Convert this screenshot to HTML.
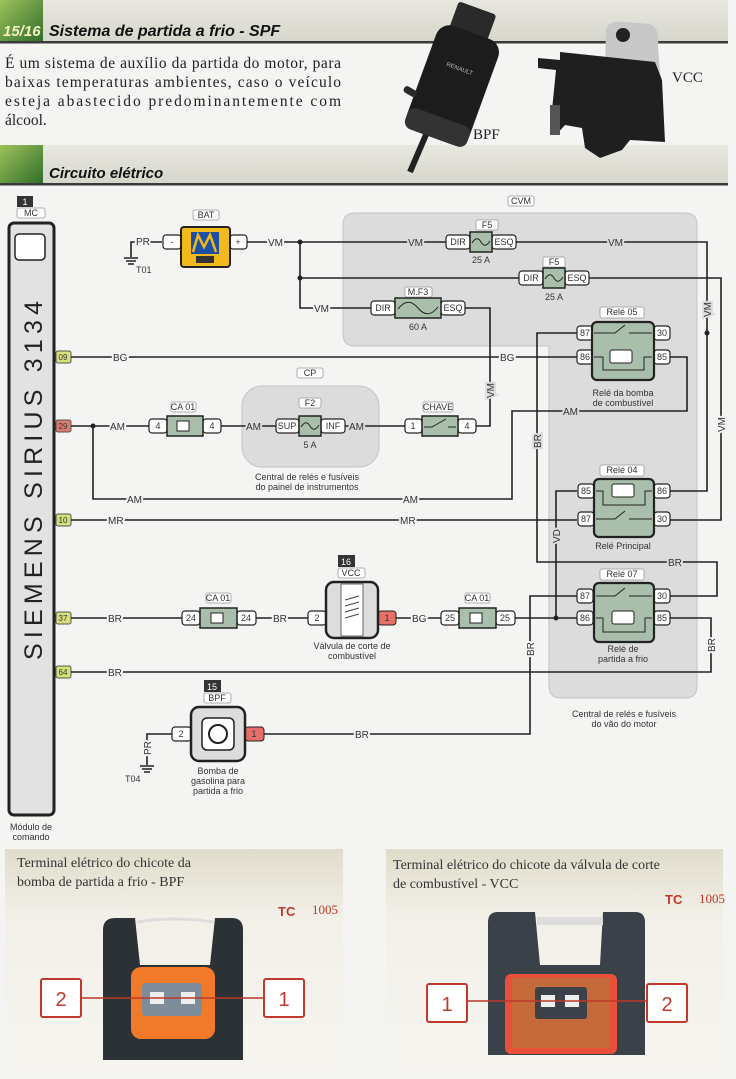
<!DOCTYPE html>
<html><head><meta charset="utf-8"><style>
html,body{margin:0;padding:0;background:#f4f4f2;}
svg{display:block;}
.w{stroke:#222;stroke-width:1.6;fill:none;}
.t{font-family:"Liberation Sans",sans-serif;font-size:9px;fill:#333;}
.wl{font-family:"Liberation Sans",sans-serif;font-size:10px;fill:#333;stroke:#f4f4f2;stroke-width:4;paint-order:stroke;}
.wg{font-family:"Liberation Sans",sans-serif;font-size:10px;fill:#333;stroke:#dcdcdc;stroke-width:4;paint-order:stroke;}
.pb{fill:#fff;stroke:#222;stroke-width:1.2;}
.rl{fill:#a9bfab;stroke:#222;stroke-width:2.2;}
.lb{fill:#fff;stroke:#999;stroke-width:0.8;}
.ser{font-family:"Liberation Serif",serif;}
</style></head><body>
<svg width="736" height="1079" viewBox="0 0 736 1079" xmlns="http://www.w3.org/2000/svg">
<defs>
<linearGradient id="gr" x1="0" y1="0" x2="1" y2="1"><stop offset="0" stop-color="#9ec25c"/><stop offset="1" stop-color="#2f6d2a"/></linearGradient>
<linearGradient id="band" x1="0" y1="0" x2="0" y2="1"><stop offset="0" stop-color="#e8e8e0"/><stop offset="1" stop-color="#d6d6cc"/></linearGradient>
<linearGradient id="pan" x1="0" y1="0" x2="0" y2="1"><stop offset="0" stop-color="#e0dccb"/><stop offset="0.3" stop-color="#f2f0e8"/><stop offset="1" stop-color="#f6f5f0"/></linearGradient>
</defs>
<rect width="736" height="1079" fill="#f4f4f2"/>
<!-- header -->
<rect x="0" y="0" width="728" height="42" fill="url(#band)"/>
<rect x="0" y="0" width="43" height="42" fill="url(#gr)"/>
<rect x="0" y="41" width="728" height="2.5" fill="#3a3a3a"/>
<text x="3" y="36" font-family="Liberation Sans,sans-serif" font-size="15" font-style="italic" font-weight="bold" fill="#f2f2c0">15/16</text>
<text x="49" y="36" font-family="Liberation Sans,sans-serif" font-size="16" font-style="italic" font-weight="bold" fill="#111">Sistema de partida a frio - SPF</text>
<g class="ser" font-size="15.5" fill="#222">
<text x="5" y="68" textLength="336" lengthAdjust="spacing">É um sistema de auxílio da partida do motor, para</text>
<text x="5" y="87" textLength="336" lengthAdjust="spacing">baixas temperaturas ambientes, caso o veículo</text>
<text x="5" y="106" textLength="336" lengthAdjust="spacing">esteja abastecido predominantemente com</text>
<text x="5" y="125">álcool.</text>
</g>
<rect x="0" y="145" width="728" height="39" fill="url(#band)"/>
<rect x="0" y="145" width="43" height="39" fill="url(#gr)"/>
<rect x="0" y="183" width="728" height="2.5" fill="#3a3a3a"/>
<text x="49" y="178" font-family="Liberation Sans,sans-serif" font-size="15" font-style="italic" font-weight="bold" fill="#111">Circuito elétrico</text>
<!-- pump photo -->
<g>
<line x1="428" y1="130" x2="410" y2="172" stroke="#222" stroke-width="6"/>
<g transform="rotate(20 455 85)">
<rect x="430" y="5" width="40" height="30" rx="3" fill="#2a2a2a"/>
<rect x="420" y="30" width="66" height="112" rx="14" fill="#1c1c1c"/>
<rect x="420" y="120" width="66" height="22" rx="8" fill="#333"/>
<text x="440" y="70" font-size="6" fill="#bbb" font-family="Liberation Sans,sans-serif">RENAULT</text>
</g>
<rect x="403" y="88" width="14" height="7" rx="3" fill="#2a2a2a" transform="rotate(30 410 92)"/>
</g>
<!-- VCC photo -->
<g>
<path d="M606 30 Q608 20 625 22 L650 24 Q660 28 658 45 L660 75 L605 70 Z" fill="#c8c8c8"/>
<circle cx="623" cy="35" r="7" fill="#222"/>
<path d="M538 58 L560 60 L560 52 L655 62 L662 80 L665 142 L630 140 L622 150 L600 158 L585 148 L582 128 L565 125 L556 135 L552 110 L556 70 L538 68 Z" fill="#1f1f1f"/>
<rect x="550" y="105" width="10" height="30" fill="#555"/>
</g>
<text x="473" y="139" class="ser" font-size="15" fill="#222">BPF</text>
<text x="672" y="82" class="ser" font-size="15" fill="#222">VCC</text>

<!-- regions -->
<path d="M355 213 H685 Q697 213 697 225 V686 Q697 698 685 698 H561 Q549 698 549 686 V346 H355 Q343 346 343 334 V225 Q343 213 355 213 Z" fill="#dcdcdc" stroke="#c4c4c4"/>
<rect x="242" y="386" width="137" height="81" rx="20" fill="#dcdcdc" stroke="#c4c4c4"/>
<rect x="508" y="196" width="26" height="10" rx="2" class="lb"/><text x="521" y="204" class="t" text-anchor="middle">CVM</text>
<rect x="297" y="368" width="26" height="10" rx="2" class="lb"/><text x="310" y="376" class="t" text-anchor="middle">CP</text>
<text x="307" y="480" class="t" text-anchor="middle">Central de relés e fusíveis</text>
<text x="307" y="490" class="t" text-anchor="middle">do painel de instrumentos</text>
<text x="624" y="717" class="t" text-anchor="middle">Central de relés e fusíveis</text>
<text x="624" y="727" class="t" text-anchor="middle">do vão do motor</text>

<!-- MC module -->
<rect x="17" y="196" width="16" height="11" fill="#333"/><text x="25" y="205" class="t" fill="#fff" text-anchor="middle" style="fill:#fff">1</text>
<rect x="17" y="208" width="28" height="10" rx="2" class="lb"/><text x="31" y="216" class="t" text-anchor="middle">MC</text>
<rect x="9" y="223" width="45" height="592" rx="5" fill="#e2e2e2" stroke="#222" stroke-width="3"/>
<rect x="15" y="234" width="30" height="26" rx="4" fill="#fff" stroke="#222" stroke-width="1.5"/>
<text transform="translate(42 660) rotate(-90)" font-family="Liberation Sans,sans-serif" font-size="25" fill="#222" letter-spacing="5.2">SIEMENS SIRIUS 3134</text>
<text x="31" y="830" class="t" text-anchor="middle">Módulo de</text>
<text x="31" y="840" class="t" text-anchor="middle">comando</text>
<g font-family="Liberation Sans,sans-serif" font-size="8" text-anchor="middle" fill="#333">
<rect x="56" y="351" width="15" height="12" rx="2" fill="#d6e07a" stroke="#555"/><text x="63" y="360">09</text>
<rect x="56" y="420" width="15" height="12" rx="2" fill="#e07a70" stroke="#555"/><text x="63" y="429">29</text>
<rect x="56" y="514" width="15" height="12" rx="2" fill="#d6e07a" stroke="#555"/><text x="63" y="523">10</text>
<rect x="56" y="612" width="15" height="12" rx="2" fill="#d6e07a" stroke="#555"/><text x="63" y="621">37</text>
<rect x="56" y="666" width="15" height="12" rx="2" fill="#d6e07a" stroke="#555"/><text x="63" y="675">64</text>
</g>

<!-- wires -->
<g class="w">
<path d="M71 357 H577"/>
<path d="M71 426 H149 M221 426 H276 M345 426 H405 M476 426 H490 V308 H465"/>
<path d="M93 426 V499 H512 V411 H687 V357 H670"/>
<path d="M71 520 H577"/>
<path d="M71 618 H182 M256 618 H308 M396 618 H441 M515 618 H577"/>
<path d="M71 672 H711 V618 H670"/>
<path d="M264 734 H530 V596 H577"/>
<path d="M172 734 H147 V765"/>
<path d="M162 242 H131 V257"/>
<path d="M247 242 H446 M516 242 H707 V491 H670"/>
<path d="M300 242 V308 H371 M300 278 H519 M589 278 H721 V520 H670"/>
<path d="M577 333 H537 V562 H717 V596 H670"/>
<path d="M577 491 H556 V618"/>
</g>
<g fill="#222"><circle cx="93" cy="426" r="2.5"/><circle cx="300" cy="242" r="2.5"/><circle cx="300" cy="278" r="2.5"/><circle cx="707" cy="333" r="2.5"/><circle cx="556" cy="618" r="2.5"/></g>
<!-- grounds -->
<g stroke="#222" stroke-width="1.5"><line x1="124" y1="258" x2="138" y2="258"/><line x1="126" y1="261" x2="136" y2="261"/><line x1="128" y1="264" x2="134" y2="264"/>
<line x1="140" y1="766" x2="154" y2="766"/><line x1="142" y1="769" x2="152" y2="769"/><line x1="144" y1="772" x2="150" y2="772"/></g>
<text x="136" y="273" class="t">T01</text>
<text x="125" y="782" class="t">T04</text>
<text transform="translate(151 755) rotate(-90)" class="wl">PR</text>
<text x="136" y="245" class="wl">PR</text>

<!-- wire labels -->
<g>
<text x="113" y="361" class="wl">BG</text><text x="500" y="361" class="wl">BG</text>
<text x="110" y="430" class="wl">AM</text><text x="246" y="430" class="wl" style="stroke:#dcdcdc">AM</text><text x="349" y="430" class="wl" style="stroke:#dcdcdc">AM</text>
<text x="127" y="503" class="wl">AM</text><text x="403" y="503" class="wl">AM</text><text x="563" y="415" class="wg">AM</text>
<text x="108" y="524" class="wl">MR</text><text x="400" y="524" class="wl">MR</text>
<text x="108" y="622" class="wl">BR</text><text x="273" y="622" class="wl">BR</text><text x="412" y="622" class="wl">BG</text>
<text x="108" y="676" class="wl">BR</text><text x="355" y="738" class="wl">BR</text>
<text x="668" y="566" class="wg">BR</text>
<text x="268" y="246" class="wl">VM</text><text x="408" y="246" class="wg">VM</text><text x="608" y="246" class="wg">VM</text>
<text x="314" y="312" class="wl">VM</text>
<text transform="translate(494 398) rotate(-90)" class="wg">VM</text>
<text transform="translate(711 317) rotate(-90)" class="wg">VM</text>
<text transform="translate(725 432) rotate(-90)" class="wl">VM</text>
<text transform="translate(541 448) rotate(-90)" class="wg">BR</text>
<text transform="translate(560 543) rotate(-90)" class="wg">VD</text>
<text transform="translate(534 656) rotate(-90)" class="wl">BR</text>
<text transform="translate(715 652) rotate(-90)" class="wl">BR</text>
</g>

<!-- BAT -->
<rect x="193" y="210" width="26" height="10" rx="2" class="lb"/><text x="206" y="218" class="t" text-anchor="middle">BAT</text>
<rect x="163" y="235" width="18" height="14" rx="3" class="pb"/><text x="172" y="245" class="t" text-anchor="middle">-</text>
<rect x="230" y="235" width="17" height="14" rx="3" class="pb"/><text x="238" y="245" class="t" text-anchor="middle">+</text>
<rect x="181" y="227" width="49" height="40" rx="3" fill="#f2b91c" stroke="#222" stroke-width="2"/>
<rect x="191" y="232" width="28" height="22" fill="#1d4fa5"/>
<path d="M193 252 L198 235 L204 247 L210 235 L216 252" stroke="#f2b91c" stroke-width="2.5" fill="none"/>
<rect x="196" y="256" width="18" height="7" fill="#333"/>
<!-- fuses -->
<g>
<rect x="476" y="220" width="22" height="10" rx="2" class="lb"/><text x="487" y="228" class="t" text-anchor="middle">F5</text>
<rect x="446" y="235" width="24" height="14" rx="3" class="pb"/><text x="458" y="245" class="t" text-anchor="middle">DIR</text>
<rect x="492" y="235" width="24" height="14" rx="3" class="pb"/><text x="504" y="245" class="t" text-anchor="middle">ESQ</text>
<rect x="470" y="232" width="22" height="20" fill="#a9bfab" stroke="#222" stroke-width="1.5"/>
<path d="M472 243 Q477 235 481 242 Q485 249 490 241" stroke="#222" fill="none"/>
<text x="481" y="263" class="t" text-anchor="middle">25 A</text>

<rect x="543" y="257" width="22" height="10" rx="2" class="lb"/><text x="554" y="265" class="t" text-anchor="middle">F5</text>
<rect x="519" y="271" width="24" height="14" rx="3" class="pb"/><text x="531" y="281" class="t" text-anchor="middle">DIR</text>
<rect x="565" y="271" width="24" height="14" rx="3" class="pb"/><text x="577" y="281" class="t" text-anchor="middle">ESQ</text>
<rect x="543" y="268" width="22" height="20" fill="#a9bfab" stroke="#222" stroke-width="1.5"/>
<path d="M545 279 Q550 271 554 278 Q558 285 563 277" stroke="#222" fill="none"/>
<text x="554" y="300" class="t" text-anchor="middle">25 A</text>

<rect x="405" y="287" width="27" height="10" rx="2" class="lb"/><text x="418" y="295" class="t" text-anchor="middle">M.F3</text>
<rect x="371" y="301" width="24" height="14" rx="3" class="pb"/><text x="383" y="311" class="t" text-anchor="middle">DIR</text>
<rect x="441" y="301" width="24" height="14" rx="3" class="pb"/><text x="453" y="311" class="t" text-anchor="middle">ESQ</text>
<rect x="395" y="298" width="46" height="20" fill="#a9bfab" stroke="#222" stroke-width="1.5"/>
<path d="M398 309 Q408 296 418 308 Q428 320 438 307" stroke="#222" fill="none"/>
<text x="418" y="330" class="t" text-anchor="middle">60 A</text>

<rect x="299" y="398" width="22" height="10" rx="2" class="lb"/><text x="310" y="406" class="t" text-anchor="middle">F2</text>
<rect x="276" y="419" width="23" height="14" rx="3" class="pb"/><text x="287" y="429" class="t" text-anchor="middle">SUP</text>
<rect x="321" y="419" width="24" height="14" rx="3" class="pb"/><text x="333" y="429" class="t" text-anchor="middle">INF</text>
<rect x="299" y="416" width="22" height="20" fill="#a9bfab" stroke="#222" stroke-width="1.5"/>
<path d="M301 427 Q306 419 310 426 Q314 433 319 425" stroke="#222" fill="none"/>
<text x="310" y="448" class="t" text-anchor="middle">5 A</text>

<!-- CA01 AM -->
<rect x="171" y="402" width="25" height="10" rx="2" class="lb"/><text x="183" y="410" class="t" text-anchor="middle">CA 01</text>
<rect x="149" y="419" width="18" height="14" rx="3" class="pb"/><text x="158" y="429" class="t" text-anchor="middle">4</text>
<rect x="203" y="419" width="18" height="14" rx="3" class="pb"/><text x="212" y="429" class="t" text-anchor="middle">4</text>
<rect x="167" y="416" width="36" height="20" fill="#a9bfab" stroke="#222" stroke-width="1.5"/>
<rect x="177" y="421" width="12" height="10" fill="#fff" stroke="#222"/>
<!-- CHAVE -->
<rect x="423" y="402" width="30" height="10" rx="2" class="lb"/><text x="438" y="410" class="t" text-anchor="middle">CHAVE</text>
<rect x="405" y="419" width="17" height="14" rx="3" class="pb"/><text x="413" y="429" class="t" text-anchor="middle">1</text>
<rect x="458" y="419" width="18" height="14" rx="3" class="pb"/><text x="467" y="429" class="t" text-anchor="middle">4</text>
<rect x="422" y="416" width="36" height="20" fill="#a9bfab" stroke="#222" stroke-width="1.5"/>
<path d="M424 427 H432 L446 419 M448 427 H456" stroke="#222" fill="none"/>
<!-- CA01 BR -->
<rect x="206" y="593" width="25" height="10" rx="2" class="lb"/><text x="218" y="601" class="t" text-anchor="middle">CA 01</text>
<rect x="182" y="611" width="18" height="14" rx="3" class="pb"/><text x="191" y="621" class="t" text-anchor="middle">24</text>
<rect x="237" y="611" width="19" height="14" rx="3" class="pb"/><text x="246" y="621" class="t" text-anchor="middle">24</text>
<rect x="200" y="608" width="37" height="20" fill="#a9bfab" stroke="#222" stroke-width="1.5"/>
<rect x="211" y="613" width="12" height="10" fill="#fff" stroke="#222"/>
<rect x="465" y="593" width="25" height="10" rx="2" class="lb"/><text x="477" y="601" class="t" text-anchor="middle">CA 01</text>
<rect x="441" y="611" width="18" height="14" rx="3" class="pb"/><text x="450" y="621" class="t" text-anchor="middle">25</text>
<rect x="496" y="611" width="19" height="14" rx="3" class="pb"/><text x="505" y="621" class="t" text-anchor="middle">25</text>
<rect x="459" y="608" width="37" height="20" fill="#a9bfab" stroke="#222" stroke-width="1.5"/>
<rect x="470" y="613" width="12" height="10" fill="#fff" stroke="#222"/>
<!-- VCC -->
<rect x="338" y="555" width="17" height="12" fill="#333"/><text x="346" y="565" class="t" text-anchor="middle" style="fill:#fff">16</text>
<rect x="338" y="568" width="27" height="10" rx="2" class="lb"/><text x="351" y="576" class="t" text-anchor="middle">VCC</text>
<rect x="308" y="611" width="18" height="14" rx="3" class="pb"/><text x="317" y="621" class="t" text-anchor="middle">2</text>
<rect x="378" y="611" width="18" height="14" rx="3" fill="#e57068" stroke="#222"/><text x="387" y="621" class="t" text-anchor="middle">1</text>
<rect x="326" y="582" width="52" height="56" rx="8" fill="#ddd" stroke="#222" stroke-width="2.5"/>
<rect x="341" y="584" width="22" height="52" fill="#fff" stroke="#666"/>
<path d="M345 600 l14 -4 M345 606 l14 -4 M345 612 l14 -4 M345 618 l14 -4" stroke="#444"/>
<text x="352" y="649" class="t" text-anchor="middle">Válvula de corte de</text>
<text x="352" y="659" class="t" text-anchor="middle">combustível</text>
<!-- BPF -->
<rect x="204" y="680" width="17" height="12" fill="#333"/><text x="212" y="690" class="t" text-anchor="middle" style="fill:#fff">15</text>
<rect x="204" y="693" width="27" height="10" rx="2" class="lb"/><text x="217" y="701" class="t" text-anchor="middle">BPF</text>
<rect x="172" y="727" width="19" height="14" rx="3" class="pb"/><text x="181" y="737" class="t" text-anchor="middle">2</text>
<rect x="245" y="727" width="19" height="14" rx="3" fill="#e57068" stroke="#222"/><text x="254" y="737" class="t" text-anchor="middle">1</text>
<rect x="191" y="707" width="54" height="54" rx="8" fill="#ddd" stroke="#222" stroke-width="2.5"/>
<rect x="202" y="718" width="32" height="32" rx="5" fill="#fff" stroke="#222" stroke-width="1.5"/>
<circle cx="218" cy="734" r="9" fill="none" stroke="#222" stroke-width="2"/>
<text x="218" y="774" class="t" text-anchor="middle">Bomba de</text>
<text x="218" y="784" class="t" text-anchor="middle">gasolina para</text>
<text x="218" y="794" class="t" text-anchor="middle">partida a frio</text>
</g>

<!-- relays -->
<g>
<rect x="600" y="307" width="44" height="11" rx="2" class="lb"/><text x="622" y="315" class="t" text-anchor="middle">Relé 05</text>
<rect x="577" y="326" width="16" height="14" rx="3" class="pb"/><text x="585" y="336" class="t" text-anchor="middle">87</text>
<rect x="577" y="350" width="16" height="14" rx="3" class="pb"/><text x="585" y="360" class="t" text-anchor="middle">86</text>
<rect x="654" y="326" width="16" height="14" rx="3" class="pb"/><text x="662" y="336" class="t" text-anchor="middle">30</text>
<rect x="654" y="350" width="16" height="14" rx="3" class="pb"/><text x="662" y="360" class="t" text-anchor="middle">85</text>
<rect x="592" y="322" width="62" height="58" rx="5" class="rl"/>
<path d="M594 333 H615 L625 325 M629 333 H652 M594 357 H603 V370 H644 V357 H652" stroke="#222" fill="none"/>
<rect x="610" y="350" width="22" height="13" rx="2" fill="#fff" stroke="#222"/>
<text x="623" y="396" class="t" text-anchor="middle">Relé da bomba</text>
<text x="623" y="406" class="t" text-anchor="middle">de combustível</text>
<rect x="600" y="465" width="44" height="11" rx="2" class="lb"/><text x="622" y="473" class="t" text-anchor="middle">Relé 04</text>
<rect x="578" y="484" width="16" height="14" rx="3" class="pb"/><text x="586" y="494" class="t" text-anchor="middle">85</text>
<rect x="578" y="512" width="16" height="14" rx="3" class="pb"/><text x="586" y="522" class="t" text-anchor="middle">87</text>
<rect x="654" y="484" width="16" height="14" rx="3" class="pb"/><text x="662" y="494" class="t" text-anchor="middle">86</text>
<rect x="654" y="512" width="16" height="14" rx="3" class="pb"/><text x="662" y="522" class="t" text-anchor="middle">30</text>
<rect x="594" y="479" width="60" height="58" rx="5" class="rl"/>
<path d="M596 519 H615 L625 511 M629 519 H652 M596 491 H603 V505 H645 V491 H652" stroke="#222" fill="none"/>
<rect x="612" y="484" width="22" height="13" rx="2" fill="#fff" stroke="#222"/>
<text x="623" y="549" class="t" text-anchor="middle">Relé Principal</text>
<rect x="600" y="569" width="44" height="11" rx="2" class="lb"/><text x="622" y="577" class="t" text-anchor="middle">Relé 07</text>
<rect x="577" y="589" width="16" height="14" rx="3" class="pb"/><text x="585" y="599" class="t" text-anchor="middle">87</text>
<rect x="577" y="611" width="16" height="14" rx="3" class="pb"/><text x="585" y="621" class="t" text-anchor="middle">86</text>
<rect x="654" y="589" width="16" height="14" rx="3" class="pb"/><text x="662" y="599" class="t" text-anchor="middle">30</text>
<rect x="654" y="611" width="16" height="14" rx="3" class="pb"/><text x="662" y="621" class="t" text-anchor="middle">85</text>
<rect x="594" y="583" width="60" height="59" rx="5" class="rl"/>
<path d="M596 596 H615 L625 588 M629 596 H652 M596 618 H603 V632 H645 V618 H652" stroke="#222" fill="none"/>
<rect x="612" y="611" width="22" height="13" rx="2" fill="#fff" stroke="#222"/>
<text x="623" y="652" class="t" text-anchor="middle">Relé de</text>
<text x="623" y="662" class="t" text-anchor="middle">partida a frio</text>
</g>

<!-- bottom panels -->
<rect x="5" y="849" width="338" height="228" fill="url(#pan)"/>
<rect x="386" y="849" width="337" height="228" fill="url(#pan)"/>
<g class="ser" font-size="14" fill="#333">
<text x="17" y="867">Terminal elétrico do chicote da</text>
<text x="17" y="886">bomba de partida a frio - BPF</text>
<text x="393" y="869">Terminal elétrico do chicote  da válvula de corte</text>
<text x="393" y="888">de combustível - VCC</text>
</g>
<g class="ser" font-size="13" fill="#c0392b">
<text x="278" y="916" font-weight="bold" font-family="Liberation Sans,sans-serif">TC</text><text x="312" y="914">1005</text>
<text x="665" y="904" font-weight="bold" font-family="Liberation Sans,sans-serif">TC</text><text x="699" y="903">1005</text>
</g>
<path d="M103 930 Q103 918 115 918 L135 918 L140 965 L210 965 L215 918 L232 918 Q243 918 243 930 L243 1060 L103 1060 Z" fill="#2c3136"/>
<path d="M137 922 Q175 916 213 922" stroke="#ddd" stroke-width="3" fill="none"/>
<rect x="131" y="967" width="84" height="72" rx="10" fill="#f07a2a"/>
<rect x="142" y="983" width="60" height="33" rx="4" fill="#7f8c99"/>
<rect x="150" y="992" width="14" height="12" fill="#eee"/><rect x="181" y="992" width="14" height="12" fill="#eee"/>
<rect x="41" y="979" width="40" height="38" rx="2" fill="#fff" stroke="#c0392b" stroke-width="2"/>
<text x="61" y="1006" font-family="Liberation Sans,sans-serif" font-size="20" fill="#c0392b" text-anchor="middle">2</text>
<rect x="264" y="979" width="40" height="38" rx="2" fill="#fff" stroke="#c0392b" stroke-width="2"/>
<text x="284" y="1006" font-family="Liberation Sans,sans-serif" font-size="20" fill="#c0392b" text-anchor="middle">1</text>
<line x1="81" y1="998" x2="264" y2="998" stroke="#c0392b" stroke-width="1.5"/>
<path d="M488 922 Q488 912 498 912 L535 912 L540 965 L600 965 L603 912 L635 912 Q645 912 645 922 L645 1055 L488 1055 Z" fill="#3a4148"/>
<rect x="537" y="917" width="66" height="8" fill="#ddd"/>
<rect x="505" y="974" width="112" height="80" rx="6" fill="#e8503a"/>
<rect x="512" y="978" width="98" height="70" fill="#c56a3a"/>
<rect x="535" y="987" width="52" height="32" rx="3" fill="#3a4148"/>
<rect x="541" y="995" width="14" height="12" fill="#eee"/><rect x="565" y="995" width="14" height="12" fill="#eee"/>
<rect x="427" y="984" width="40" height="38" rx="2" fill="#fff" stroke="#c0392b" stroke-width="2"/>
<text x="447" y="1011" font-family="Liberation Sans,sans-serif" font-size="20" fill="#c0392b" text-anchor="middle">1</text>
<rect x="647" y="984" width="40" height="38" rx="2" fill="#fff" stroke="#c0392b" stroke-width="2"/>
<text x="667" y="1011" font-family="Liberation Sans,sans-serif" font-size="20" fill="#c0392b" text-anchor="middle">2</text>
<line x1="467" y1="1001" x2="647" y2="1001" stroke="#c0392b" stroke-width="1.5"/>
</svg>
</body></html>
